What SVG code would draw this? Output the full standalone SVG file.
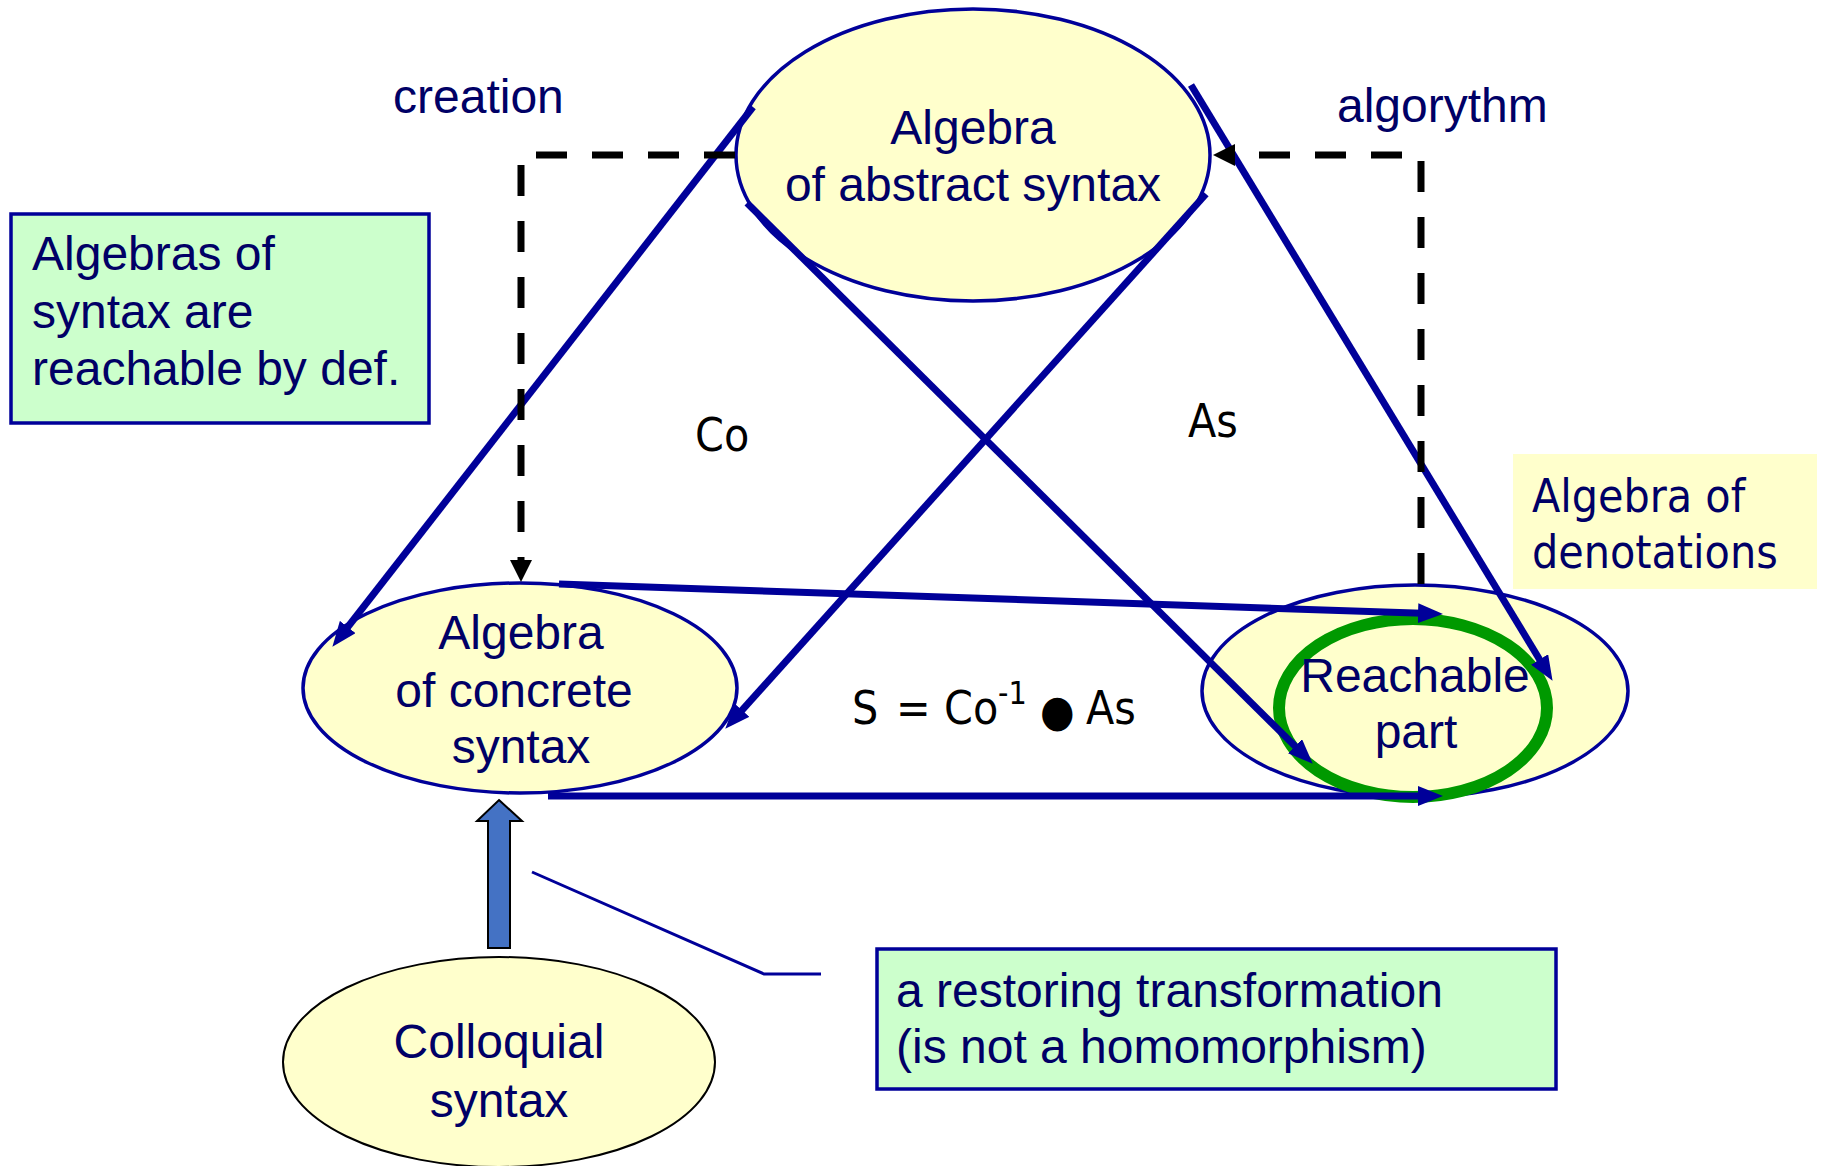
<svg xmlns="http://www.w3.org/2000/svg" width="1823" height="1166" viewBox="0 0 1823 1166">
<style>
.t{font-family:"Liberation Sans",Arial,sans-serif;font-size:48px;fill:#000066}
.th{font-family:"DejaVu Sans Condensed","DejaVu Sans",sans-serif;font-size:46px}
.c{text-anchor:middle}
.node{fill:#FFFFCC;stroke:#000099;stroke-width:3.5}
.blue{fill:none;stroke:#000099;stroke-width:7}
.dash{fill:none;stroke:#000;stroke-width:7;stroke-dasharray:31 25}
</style>
<defs>
<marker id="ab" viewBox="0 0 25 20" refX="12" refY="10" markerWidth="25" markerHeight="20" markerUnits="userSpaceOnUse" orient="auto">
<path d="M0,0 L25,10 L0,20 z" fill="#000099"/>
</marker>
<marker id="ak" viewBox="0 0 22 22" refX="10" refY="11" markerWidth="22" markerHeight="22" markerUnits="userSpaceOnUse" orient="auto">
<path d="M0,0 L22,11 L0,22 z" fill="#000"/>
</marker>
</defs>
<rect width="1823" height="1166" fill="#fff"/>

<g id="node-abstract">
<ellipse class="node" cx="973" cy="155" rx="237" ry="146"/>
<text class="t c" x="973" y="144">Algebra</text>
<text class="t c" x="973" y="201">of abstract syntax</text>
</g>

<g id="node-concrete">
<ellipse class="node" cx="520" cy="688" rx="217" ry="105"/>
<text class="t c" x="521" y="649">Algebra</text>
<text class="t c" x="514" y="707">of concrete</text>
<text class="t c" x="521" y="763">syntax</text>
</g>

<g id="node-denotations">
<ellipse class="node" cx="1415" cy="691" rx="213" ry="106"/>
</g>

<g id="node-reachable">
<ellipse cx="1413" cy="708" rx="134" ry="89" fill="none" stroke="#009900" stroke-width="12"/>
<text class="t c" x="1415" y="692">Reachable</text>
<text class="t c" x="1416" y="748">part</text>
</g>

<g id="node-colloquial">
<ellipse cx="499" cy="1062" rx="216" ry="105" fill="#FFFFCC" stroke="#000" stroke-width="2"/>
<text class="t c" x="499" y="1058">Colloquial</text>
<text class="t c" x="499" y="1117">syntax</text>
</g>

<g id="note-reachable">
<rect x="11" y="214" width="418" height="209" fill="#CCFFCC" stroke="#000099" stroke-width="3.5"/>
<text class="t" x="32" y="270">Algebras of</text>
<text class="t" x="32" y="328">syntax are</text>
<text class="t" x="32" y="385">reachable by def.</text>
</g>

<g id="label-denotations">
<rect x="1513" y="454" width="304" height="135" fill="#FFFFCC"/>
<text class="th" x="1532" y="512" fill="#000066">Algebra of</text>
<text class="th" x="1532" y="568" fill="#000066">denotations</text>
</g>

<g id="note-restoring">
<rect x="877" y="949" width="679" height="140" fill="#CCFFCC" stroke="#000099" stroke-width="3.5"/>
<text class="t" x="896" y="1007">a restoring transformation</text>
<text class="t" x="896" y="1063">(is not a homomorphism)</text>
</g>

<g id="labels">
<text class="t" x="393" y="113">creation</text>
<text class="t" x="1337" y="122">algorythm</text>
<text class="th" x="695" y="451" font-size="50" fill="#000">Co</text>
<text class="th" x="1188" y="437" font-size="50" fill="#000">As</text>
<text class="th" y="724" font-size="50" fill="#000"><tspan x="852">S</tspan><tspan x="896">=</tspan><tspan x="944">Co</tspan><tspan x="998" y="704" font-size="32">-1</tspan><tspan x="1040" y="726" font-size="44">●</tspan><tspan x="1086" y="724">As</tspan></text>
</g>

<g id="connectors">
<path class="blue" d="M753,107 L340.4,636.5" marker-end="url(#ab)"/>
<path class="blue" d="M747,203 L1303.5,754.6" marker-end="url(#ab)"/>
<path class="blue" d="M1206,194 L734,719.1" marker-end="url(#ab)"/>
<path class="blue" d="M1191,85 L1545.8,669.7" marker-end="url(#ab)"/>
<path class="blue" d="M559,584 L1430,613.6" marker-end="url(#ab)"/>
<path class="blue" d="M548,796 L1430,796" marker-end="url(#ab)"/>
<path class="dash" d="M735,155 L521,155 L521,570" marker-end="url(#ak)"/>
<path class="dash" d="M1421,584 L1421,155 L1225,155" marker-end="url(#ak)"/>
<path d="M532,872 L764,974 L821,974" fill="none" stroke="#000099" stroke-width="3"/>
<polygon points="499,800 522,821 510,821 510,948 488,948 488,821 477,821" fill="#4472C4" stroke="#000" stroke-width="2"/>
</g>
</svg>
